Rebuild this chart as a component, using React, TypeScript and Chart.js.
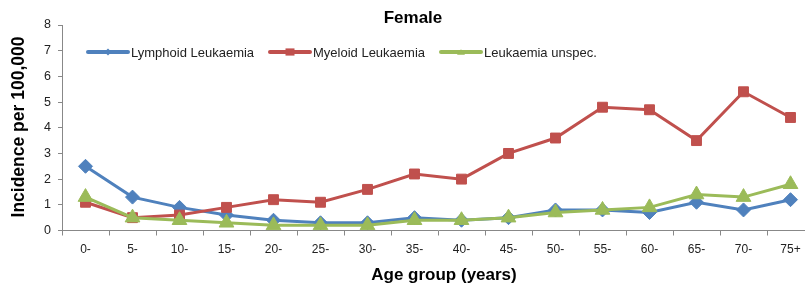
import React, { useEffect, useRef } from "react";
import { Chart, registerables } from "chart.js";

Chart.register(...registerables);

const categories = ["0-", "5-", "10-", "15-", "20-", "25-", "30-", "35-", "40-", "45-", "50-", "55-", "60-", "65-", "70-", "75+"];
const lymphoid = [2.5, 1.3, 0.9, 0.6, 0.4, 0.3, 0.3, 0.5, 0.4, 0.5, 0.8, 0.8, 0.7, 1.1, 0.8, 1.2];
const myeloid = [1.1, 0.5, 0.6, 0.9, 1.2, 1.1, 1.6, 2.2, 2.0, 3.0, 3.6, 4.8, 4.7, 3.5, 5.4, 4.4];
const unspec = [1.3, 0.5, 0.4, 0.3, 0.2, 0.2, 0.2, 0.4, 0.4, 0.5, 0.7, 0.8, 0.9, 1.4, 1.3, 1.8];
const seriesNames = ["Lymphoid Leukaemia", "Myeloid Leukaemia", "Leukaemia unspec."];
const chartTitle = "Female";
const xTitle = "Age group (years)";
const yTitle = "Incidence per 100,000";

const BLUE = "#4F81BD";
const RED = "#C0504D";
const GREEN = "#9BBB59";
const FONT = "'Liberation Sans', Arial, sans-serif";

const textPlugin = {
  id: "customText",
  afterDraw(chart: any) {
    const ctx = chart.ctx;
    ctx.save();
    ctx.fillStyle = "#000";
    ctx.textAlign = "center";
    ctx.textBaseline = "middle";
    ctx.font = `bold 17px ${FONT}`;
    ctx.fillText(chartTitle, 413, 18);
    ctx.font = `bold 17px ${FONT}`;
    ctx.fillText(xTitle, 444, 275);
    ctx.save();
    ctx.translate(19, 127);
    ctx.rotate(-Math.PI / 2);
    ctx.font = `bold 17.5px ${FONT}`;
    ctx.fillText(yTitle, 0, 0);
    ctx.restore();

    // legend
    const items = [
      { x: 88, color: BLUE, style: "rectRot", r: 3.5 },
      { x: 270, color: RED, style: "rect", r: 4.5 },
      { x: 441, color: GREEN, style: "triangle", r: 4 },
    ];
    const y = 52;
    items.forEach((it, i) => {
      ctx.strokeStyle = it.color;
      ctx.lineWidth = 4;
      ctx.lineCap = "round";
      ctx.beginPath();
      ctx.moveTo(it.x, y);
      ctx.lineTo(it.x + 40, y);
      ctx.stroke();
      ctx.fillStyle = it.color;
      const cx = it.x + 20;
      ctx.beginPath();
      if (it.style === "rectRot") {
        ctx.moveTo(cx - it.r, y);
        ctx.lineTo(cx, y - it.r);
        ctx.lineTo(cx + it.r, y);
        ctx.lineTo(cx, y + it.r);
      } else if (it.style === "rect") {
        ctx.rect(cx - it.r, y - it.r * 0.8, it.r * 2, it.r * 1.6);
      } else {
        ctx.moveTo(cx - it.r, y + it.r * 0.7);
        ctx.lineTo(cx, y - it.r * 0.7);
        ctx.lineTo(cx + it.r, y + it.r * 0.7);
      }
      ctx.closePath();
      ctx.fill();
      ctx.fillStyle = "#222";
      ctx.textAlign = "left";
      ctx.font = `13px ${FONT}`;
      ctx.fillText(seriesNames[i], it.x + 43, y + 1);
    });
    ctx.restore();
  },
};

export default function App() {
  const ref = useRef<HTMLCanvasElement>(null);
  useEffect(() => {
    document.documentElement.style.overflow = "hidden";
    document.body.style.overflow = "hidden";
    document.body.style.margin = "0";
    const chart = new Chart(ref.current!, {
      type: "line",
      data: {
        labels: categories,
        datasets: [
          {
            label: seriesNames[0],
            data: lymphoid,
            borderColor: BLUE,
            backgroundColor: BLUE,
            borderWidth: 3,
            pointStyle: "rectRot",
            pointRadius: 7,
            pointBorderWidth: 1,
            order: 3,
          },
          {
            label: seriesNames[1],
            data: myeloid,
            borderColor: RED,
            backgroundColor: RED,
            borderWidth: 3,
            pointStyle: "rect",
            pointRadius: 7,
            pointBorderWidth: 1,
            order: 2,
          },
          {
            label: seriesNames[2],
            data: unspec,
            borderColor: GREEN,
            backgroundColor: GREEN,
            borderWidth: 3,
            pointStyle: "triangle",
            pointRadius: 8.5,
            pointBorderWidth: 1,
            order: 1,
          },
        ],
      },
      options: {
        responsive: false,
        animation: false,
        layout: { padding: { top: 25, right: 16, left: 0, bottom: 0 } },
        plugins: {
          legend: { display: false },
          title: { display: false },
          tooltip: { enabled: false },
        },
        scales: {
          x: {
            offset: true,
            grid: { display: true, offset: true, drawOnChartArea: false, drawTicks: true, tickLength: 5, color: "#888" },
            border: { display: true, color: "#888", width: 1 },
            ticks: { color: "#222", font: { family: FONT, size: 12 }, padding: 7, maxRotation: 0, autoSkip: false },
            afterFit: (s: any) => { s.height = 56.5; },
          },
          y: {
            min: 0,
            max: 8,
            grid: { display: true, drawOnChartArea: false, drawTicks: true, tickLength: 4, color: "#888" },
            border: { display: true, color: "#888", width: 1 },
            ticks: { stepSize: 1, color: "#222", font: { family: FONT, size: 12.5 }, padding: 7 },
            afterFit: (s: any) => { s.width = 62; },
          },
        },
      },
      plugins: [textPlugin],
    });
    return () => chart.destroy();
  }, []);
  return (
    <div style={{ position: "absolute", left: 0, top: 0, width: 830, height: 287 }}>
      <canvas ref={ref} width={830} height={287} style={{ width: 830, height: 287, display: "block" }} />
    </div>
  );
}
